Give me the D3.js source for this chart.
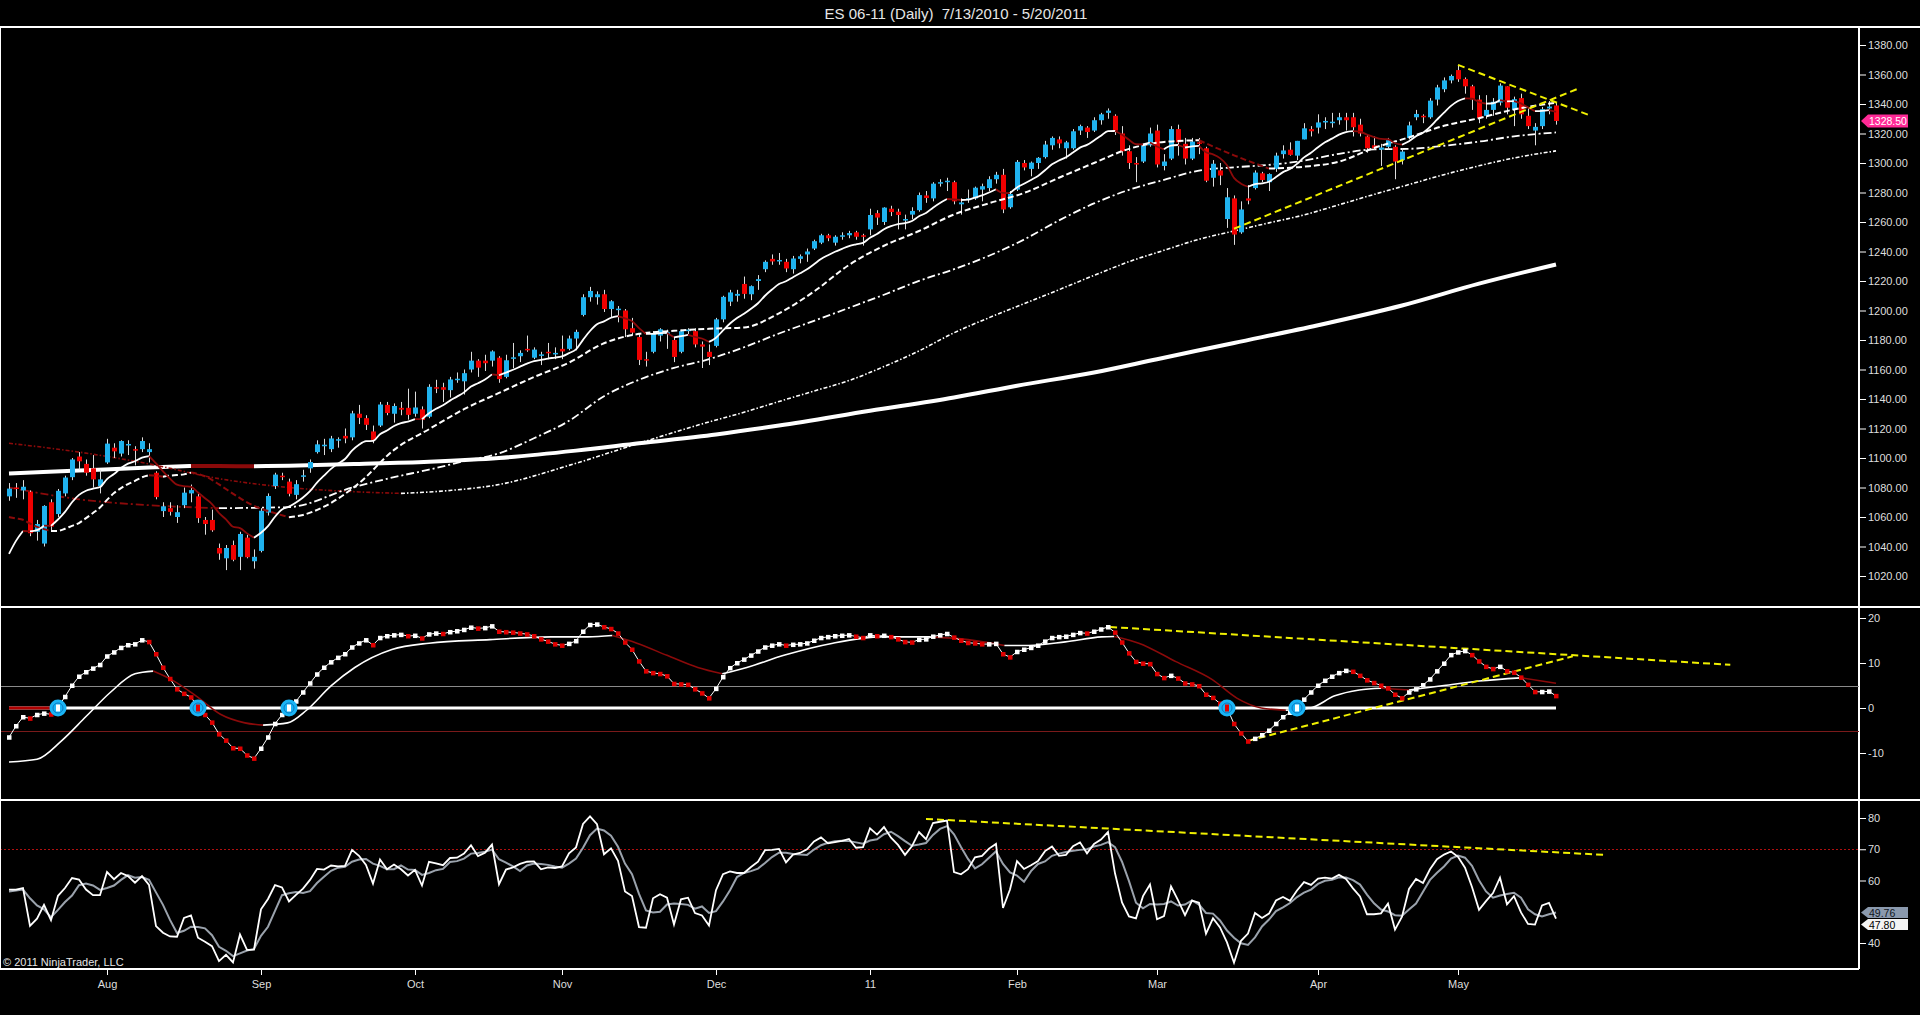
<!DOCTYPE html>
<html><head><meta charset="utf-8">
<script src="https://cdn.jsdelivr.net/npm/d3@7"></script>
<style>html,body{margin:0;padding:0;background:#000;overflow:hidden}svg{display:block}</style>
</head><body><svg id="c" width="1920" height="1015"></svg>
<script>
const chartTitle = "ES 06-11 (Daily)  7/13/2010 - 5/20/2011";
const copyright = "© 2011 NinjaTrader, LLC";
const monthLabels = ["Aug","Sep","Oct","Nov","Dec","11","Feb","Mar","Apr","May"];
const monthStartBars = [14,36,58,79,101,123,144,164,187,207];
const priceTicks = [1020,1040,1060,1080,1100,1120,1140,1160,1180,1200,1220,1240,1260,1280,1300,1320,1340,1360,1380];
const macdTicks = [-10,0,10,20];
const rsiTicks = [40,60,70,80];
const lastPrice = 1328.50;
const rsiAvgLast = 49.76;
const rsiLastLabel = "47.80";

const opens = [1074,1080,1078,1077,1050,1042,1070,1062,1076,1087,
1101,1096,1093,1081,1097,1107,1103,1109,1106,1106,
1104,1090,1064,1066,1060,1068,1076,1074,1058,1058,
1039,1032,1041,1033,1046,1030,1037,1063,1081,1088,
1084,1075,1088,1093,1104,1108,1106,1112,1115,1114,
1130,1127,1118,1122,1136,1130,1134,1134,1130,1133,
1128,1148,1148,1146,1153,1152,1160,1166,1166,1166,
1168,1155,1168,1169,1174,1168,1170,1172,1171,1174,
1174,1181,1197,1209,1209,1211,1201,1201,1200,1188,
1182,1167,1172,1183,1184,1180,1172,1186,1186,1177,
1172,1176,1194,1206,1210,1218,1211,1220,1228,1235,
1234,1233,1228,1235,1238,1242,1246,1251,1246,1251,
1251,1253,1251,1255,1266,1260,1269,1267,1262,1265,
1268,1278,1276,1286,1287,1287,1272,1276,1276,1282,
1283,1289,1292,1270,1282,1300,1296,1300,1304,1312,
1316,1310,1310,1322,1324,1322,1329,1334,1332,1320,
1308,1300,1301,1312,1322,1298,1303,1323,1313,1303,
1314,1310,1290,1295,1262,1276,1253,1276,1283,1293,
1287,1296,1306,1309,1305,1316,1323,1324,1328,1328,
1329,1331,1331,1326,1318,1312,1309,1311,1311,1302,
1317,1331,1332,1331,1343,1350,1356,1363,1357,1352,
1343,1332,1336,1341,1352,1336,1344,1332,1322,1325,
1337,1339];
const highs = [1083,1083,1085,1078,1058,1068,1072,1079,1088,1100,
1104,1099,1102,1092,1113,1110,1112,1112,1108,1114,
1110,1091,1070,1070,1068,1080,1082,1076,1060,1065,
1042,1041,1044,1050,1048,1038,1066,1076,1090,1090,
1086,1085,1092,1099,1112,1113,1115,1114,1120,1132,
1136,1129,1122,1138,1138,1137,1138,1147,1145,1135,
1150,1153,1151,1155,1158,1160,1172,1167,1170,1173,
1169,1170,1178,1173,1183,1175,1172,1178,1175,1183,
1183,1187,1211,1216,1213,1214,1207,1203,1201,1195,
1184,1172,1186,1188,1187,1182,1187,1188,1188,1179,
1177,1195,1210,1214,1214,1223,1217,1224,1234,1238,
1239,1235,1237,1238,1242,1248,1252,1252,1251,1253,
1254,1254,1252,1269,1268,1270,1271,1269,1265,1270,
1280,1281,1287,1289,1290,1288,1276,1282,1284,1286,
1291,1294,1296,1281,1302,1302,1301,1304,1315,1318,
1318,1315,1323,1326,1325,1331,1334,1337,1333,1325,
1312,1304,1313,1324,1326,1306,1325,1326,1317,1317,
1317,1311,1302,1300,1283,1278,1274,1285,1295,1294,
1293,1307,1312,1314,1315,1327,1325,1333,1331,1334,
1334,1334,1334,1330,1319,1318,1313,1317,1312,1310,
1328,1336,1333,1344,1353,1358,1360,1366,1358,1353,
1346,1346,1344,1354,1352,1345,1347,1338,1327,1338,
1342,1341];
const lows = [1071,1073,1072,1047,1044,1040,1050,1060,1074,1085,
1092,1088,1080,1076,1096,1100,1101,1102,1095,1104,
1097,1072,1060,1061,1056,1066,1070,1056,1048,1050,
1031,1024,1030,1024,1032,1025,1036,1061,1079,1085,
1074,1072,1084,1090,1103,1102,1104,1107,1110,1112,
1123,1119,1110,1121,1129,1124,1129,1126,1128,1120,
1127,1144,1138,1141,1151,1143,1158,1155,1159,1162,
1151,1154,1161,1165,1172,1167,1163,1167,1167,1167,
1173,1173,1196,1206,1204,1199,1195,1192,1182,1183,
1163,1162,1171,1179,1174,1165,1171,1184,1175,1161,
1163,1175,1192,1203,1206,1208,1207,1214,1226,1231,
1231,1226,1225,1232,1233,1241,1245,1247,1244,1248,
1249,1248,1244,1251,1258,1258,1264,1255,1255,1262,
1267,1273,1274,1284,1281,1272,1265,1273,1275,1274,
1281,1286,1266,1269,1281,1295,1291,1296,1303,1309,
1310,1303,1309,1319,1317,1321,1326,1330,1319,1305,
1296,1287,1300,1311,1297,1295,1302,1305,1299,1302,
1306,1287,1284,1285,1256,1244.5,1252,1272,1282,1287,
1281,1294,1303,1305,1302,1316,1318,1320,1323,1324,
1326,1322,1318,1318,1307,1309,1298,1309,1289,1299,
1316,1329,1327,1330,1339,1348,1354,1355,1347,1336,
1327,1330,1332,1339,1333,1325,1330,1323,1312,1323,
1333,1326];
const closes = [1079.25,1079.25,1080.5,1049,1055.25,1067.5,1053.5,1077.75,1086.75,1099,
1097.75,1090,1085.5,1085.5,1109.75,1104.5,1111.5,1109.5,1105.25,1111.5,
1106,1073.5,1067.25,1063.5,1063.25,1076.5,1078.25,1059.25,1055.25,1051,
1035.25,1039,1031,1048.5,1032.75,1033,1064.25,1074.25,1088.75,1087,
1075.75,1082.25,1088.25,1097.25,1109.25,1109,1113.25,1112.75,1113.25,1130.25,
1127.25,1122.5,1112.25,1136.25,1130.5,1135.25,1132.75,1129.25,1134.25,1125.75,
1148.25,1147.25,1146.25,1153.25,1153.75,1157.5,1166,1161.25,1164.25,1172.25,
1153.5,1166.25,1168.25,1171.25,1173.25,1173.5,1170.25,1171.5,1171.25,1172.25,
1181,1185.5,1209,1213.25,1211,1201,1206.25,1201.25,1187.25,1185,
1166.5,1166.25,1184.25,1187.25,1185.25,1168.5,1186,1187,1177,1175.5,
1168.5,1194,1209.25,1212.25,1211.25,1211.25,1216.5,1221.25,1233,1233.25,
1234.25,1228.5,1235.25,1236.75,1240,1247,1251,1249,1250,1251,
1252.5,1250,1250.5,1264.75,1263,1269.75,1266.75,1264.75,1262,1267.5,
1278.25,1276.25,1286,1287,1288,1274,1273.25,1276,1283.25,1284.25,
1289,1292,1268.5,1279,1300.75,1297,1300.25,1303.5,1312.5,1317,
1313.25,1314,1321.5,1325,1321,1329,1333,1335.5,1322,1308,
1300,1299,1312,1320,1299,1301,1323,1314,1303,1314.5,
1313,1288,1299.5,1291.5,1276.75,1251.5,1268.5,1274.5,1293.5,1288.5,
1292.5,1305,1308.5,1305.5,1315,1323.5,1321.5,1327.5,1328.5,1328,
1331,1329,1324.25,1320,1310,1310,1310.5,1315.5,1301,1307.75,
1325.5,1333.25,1331.25,1342.25,1351.25,1356,1359,1356.75,1352,1343,
1330.5,1336,1341.5,1352.5,1337.5,1343.25,1333,1325,1324.5,1336.5,
1338.25,1328.5];

const ema10 = [1035,1043.8,1050.5,1050.2,1051.1,1054.1,1054,1058.3,1063.5,1070,
1075,1077.8,1079.2,1080.3,1085.7,1089.1,1093.2,1096.2,1097.8,1100.3,
1101.3,1096.3,1091,1086,1081.9,1080.9,1080.4,1076.6,1072.7,1068.8,
1062.7,1058.4,1053.4,1052.5,1048.9,1046,1049.3,1053.8,1060.2,1065.1,
1067,1069.8,1073.2,1077.5,1083.3,1088,1092.6,1096.2,1099.3,1105,
1109,1111.4,1111.6,1116.1,1118.7,1121.7,1123.7,1124.7,1126.4,1126.3,
1130.3,1133.4,1135.7,1138.9,1141.6,1144.5,1148.4,1150.7,1153.2,1156.7,
1156.1,1157.9,1159.8,1161.9,1164,1165.7,1166.5,1167.4,1168.1,1168.9,
1171.1,1173.7,1180.1,1186.1,1190.7,1192.6,1195.1,1196.2,1194.6,1192.8,
1188,1184.1,1184.1,1184.7,1184.8,1181.8,1182.6,1183.4,1182.2,1181,
1178.7,1181.5,1186.5,1191.2,1194.9,1197.8,1201.2,1204.9,1210,1214.2,
1217.9,1219.8,1222.6,1225.2,1227.9,1231.4,1234.9,1237.5,1239.8,1241.8,
1243.7,1244.9,1245.9,1249.3,1251.8,1255.1,1257.2,1258.6,1259.2,1260.7,
1263.9,1266.1,1269.7,1272.9,1275.6,1275.3,1274.9,1275.1,1276.6,1278,
1280,1282.2,1279.7,1279.6,1283.4,1285.9,1288.5,1291.2,1295.1,1299.1,
1301.7,1303.9,1307.1,1310.4,1312.3,1315.3,1318.5,1321.6,1321.7,1319.2,
1315.7,1312.7,1312.6,1313.9,1311.2,1309.3,1311.8,1312.2,1310.5,1311.2,
1311.6,1307.3,1305.9,1303.3,1298.5,1289.9,1286,1283.9,1285.7,1286.2,
1287.3,1290.5,1293.8,1295.9,1299.4,1303.8,1307,1310.7,1314,1316.5,
1319.2,1321,1321.6,1321.3,1319.2,1317.6,1316.3,1316.1,1313.4,1312.4,
1314.8,1318.2,1320.5,1324.5,1329.4,1334.2,1338.7,1342,1343.8,1343.7,
1341.3,1340.3,1340.5,1342.7,1341.8,1342,1340.4,1337.6,1335.2,1335.4,
1335.9,1334.6];

const sma20Pts = [[0,1060],[1,1059],[2,1058.1],[3,1055.6],[4,1053.3],[5,1051.8],[6,1050.5],[7,1050.6],[8,1052],[9,1054],[10,1055.9],[11,1059.2],[12,1062.7],[13,1066.4],[14,1071.6],[15,1076.2],[16,1079.6],[17,1082.3],[18,1084.5],[19,1086.9],[20,1088.3],[21,1088],[22,1087.3],[23,1088],[24,1088.4],[25,1088.9],[26,1090.1],[27,1089.2],[28,1087.6],[29,1085.2],[30,1082.1],[35,1067.6],[38,1062.6],[40,1059.9],[42,1061.4],[45,1067],[50,1082.9],[55,1105.5],[60,1119.5],[65,1133.1],[70,1144.1],[75,1154.9],[80,1164.7],[85,1177.8],[90,1184.2],[95,1186.2],[100,1187.6],[105,1188.5],[110,1198.1],[115,1212.9],[120,1230.9],[125,1243.9],[130,1253.9],[135,1265.1],[140,1272.7],[145,1279.7],[150,1290],[155,1300],[160,1309.6],[165,1314.3],[170,1315.4],[175,1305.2],[180,1296.2],[185,1297.5],[190,1300.9],[195,1310.2],[200,1317.4],[205,1325.2],[210,1330.4],[215,1336.3],[221,1340.9]];
const sma50Pts = [[0,1080],[10,1072],[20,1068],[30,1066],[40,1066.7],[49,1079.9],[55,1087],[60,1092.1],[65,1097.8],[70,1103.2],[75,1113.4],[80,1125.2],[85,1141.9],[90,1153],[95,1161.1],[100,1167],[105,1175.1],[110,1184.4],[115,1193],[120,1201.8],[125,1210.7],[130,1220.1],[135,1228],[140,1237.1],[145,1248.1],[150,1261.1],[155,1272.6],[160,1281.8],[165,1288.6],[170,1294.9],[175,1297.1],[180,1298.7],[185,1301.6],[190,1306.2],[195,1309.3],[200,1309.6],[205,1311.7],[210,1314.5],[215,1318.1],[221,1320.7]];
const sma100Pts = [[0,1110],[10,1104],[20,1096],[30,1086],[40,1080],[50,1077],[56,1076],[63,1078],[70,1082],[80,1095],[90,1110],[99,1123.1],[105,1131],[110,1138.3],[115,1145.4],[120,1152.5],[125,1162],[130,1172.6],[135,1184.9],[140,1195.1],[145,1204.6],[150,1214.1],[155,1223.8],[160,1233.1],[165,1240.8],[170,1248.3],[175,1253.9],[180,1259.4],[185,1264.8],[190,1271.7],[195,1278.7],[200,1285.4],[205,1292.1],[210,1298.1],[215,1303.4],[221,1308.2]];
const sma200Pts = [[0,1089.5],[10,1091.5],[20,1093.5],[26,1094.6],[30,1094.5],[35,1094.4],[40,1094.8],[50,1096],[60,1097.5],[70,1100],[81,1105],[90,1110],[101,1116],[110,1122],[123,1132],[135,1141],[144,1149],[155,1158],[164,1167],[175,1178],[187,1190],[199,1203.4],[210,1218.2],[221,1231.2]];

const macd = [-6.5,-4.0,-2.0,-2.3,-1.5,-1.2,-1.4,0.2,2.5,5.0,
7.0,8.0,8.8,9.6,11.5,12.4,13.4,14.0,14.2,15.1,
14.7,12.0,9.0,6.5,4.2,3.2,2.4,0.2,-1.5,-3.2,
-5.8,-7.2,-8.9,-9.0,-10.5,-11.2,-9.0,-6.5,-3.5,-1.5,
0.1,1.5,3.5,5.5,7.5,9.0,10.2,11.2,12.0,13.5,
14.4,15.1,14.0,15.6,16.0,16.2,16.3,16.0,16.1,15.5,
16.4,16.6,16.5,16.9,17.1,17.4,17.9,17.7,17.8,18.2,
17.0,16.9,16.8,16.6,16.4,16.0,15.3,14.8,14.2,13.9,
14.3,14.9,17.0,18.5,18.6,18.0,17.6,16.6,14.6,13.0,
10.4,8.2,7.8,7.6,7.1,5.4,5.3,5.2,4.2,3.3,
2.2,4.3,6.9,8.9,10.0,10.8,11.7,12.6,13.5,13.9,
14.2,13.9,14.1,14.2,14.4,15.0,15.6,15.8,16.0,16.1,
16.2,15.9,15.6,16.2,16.0,16.1,15.8,15.3,14.7,14.6,
15.2,15.3,15.9,16.2,16.5,15.7,15.0,14.5,14.4,14.2,
14.2,14.3,12.0,11.3,12.5,13.0,13.4,13.9,14.8,15.6,
15.8,15.9,16.3,16.7,16.6,17.0,17.5,18.0,16.8,14.6,
12.2,10.3,9.9,9.8,7.6,6.7,7.2,6.6,5.5,5.3,
4.9,3.0,2.3,1.0,0.0,-3.5,-5.6,-7.4,-6.8,-6.0,
-5.0,-3.5,-2.0,-1.0,0.2,1.9,3.5,5.0,6.1,7.0,
7.8,8.3,8.1,7.2,6.2,5.6,5.0,4.4,3.0,2.2,
3.5,4.2,5.1,6.4,8.2,9.9,11.8,12.4,12.7,11.8,
10.4,9.2,8.7,9.2,8.2,7.9,6.8,5.2,3.6,3.6,
3.7,2.7];
const signalPts = [[0,-12],[4,-11.4],[7.5,-7.3],[11,-1.9],[14.5,3.5],[18,7.6],[20.6,8.2],[23.2,6.3],[26.7,2.7],[30.2,-1.4],[33.7,-3.3],[36.3,-3.8],[39.8,-3.3],[42.5,-0.5],[46,4.9],[49.4,9],[54.7,13],[60,14.4],[68.7,15.2],[77.4,15.8],[82.7,15.8],[86.2,16.1],[89.7,14.4],[94,11.7],[98.4,9],[101.9,7.6],[105.4,9],[110.7,11.7],[117.7,14.4],[124.7,15.8],[131.7,15.8],[137,15.2],[142.2,13.9],[145.7,13.9],[150.9,14.7],[156.1,15.8],[157.9,15.9],[161.4,14.4],[166.7,10.3],[171.9,6.3],[175.4,2.2],[178.9,0],[182.4,-0.5],[185.9,0],[189.4,2.7],[192.9,4.0],[196,4.4],[200,4.0],[205,5.0],[210,6.0],[216,6.7],[221,5.5]];
const crossBars = [7,27,40,174,184];
const crossUp = [true,false,true,false,true];
const zeroRedRanges = [[0,6]];

const rsi = [57.1,57.1,57.6,45.5,47.8,52.2,47.3,55.1,57.6,60.8,
60.3,57.1,55.3,55.3,62.7,60.4,62.4,61.4,59.3,61.4,
58.6,45.4,43.3,42.1,42.0,48.0,48.8,41.7,40.4,39.0,
34.2,36.2,33.8,42.7,37.8,37.9,50.8,54.1,58.5,57.8,
53.3,55.4,57.4,60.2,63.7,63.5,64.8,64.5,64.7,69.8,
67.9,65.0,59.0,66.7,63.6,65.1,63.6,61.6,63.4,58.4,
66.0,65.5,64.9,67.2,67.3,68.6,71.3,67.8,68.9,71.5,
58.8,63.5,64.2,65.3,66.0,66.1,63.6,64.2,64.0,64.5,
68.7,70.6,78.1,80.5,78.0,68.4,70.3,66.3,56.5,55.0,
45.1,44.9,54.3,55.6,54.5,45.9,54.0,54.5,49.6,48.8,
45.6,56.9,62.0,62.9,62.4,62.4,64.3,66.0,69.7,69.8,
70.1,65.8,68.3,68.8,70.0,72.5,73.8,71.9,72.3,72.7,
73.3,70.5,70.7,76.7,74.7,77.1,73.7,71.4,68.2,71.0,
75.5,73.2,78.4,78.8,79.2,62.7,62.0,63.6,67.4,67.9,
70.2,71.7,51.2,57.1,66.2,63.7,64.9,66.2,69.4,70.9,
67.9,68.2,71.0,72.2,68.7,71.7,73.1,75.5,62.3,53.0,
48.5,47.9,55.0,58.7,47.6,48.6,58.1,53.7,48.9,53.6,
52.9,43.0,47.9,45.0,40.2,33.7,40.7,43.0,49.6,48.0,
49.4,53.6,54.7,53.5,56.8,59.5,58.6,60.6,60.9,60.6,
61.8,60.5,57.5,54.9,49.2,49.2,49.5,52.6,44.3,48.4,
57.3,60.5,59.2,63.6,66.8,68.3,69.3,67.6,64.1,57.9,
50.6,53.4,56.0,60.9,52.4,55.0,49.8,46.1,45.9,52.0,
52.8,47.8];
const rsiAvg = [56.5,56.8,57.1,54.3,52.0,50.8,48.2,50.6,53.1,55.2,
58.5,59.0,58.4,57.0,57.6,58.4,60.2,61.7,60.9,61.1,
60.2,56.2,52.2,47.4,43.2,43.9,45.2,45.1,44.7,42.5,
38.8,37.5,35.8,36.7,37.6,38.1,42.3,45.2,50.3,55.3,
55.9,56.3,56.0,56.6,59.2,61.2,63.1,64.1,64.4,66.0,
66.7,66.9,65.4,64.7,63.6,63.6,64.8,63.5,63.4,61.8,
62.4,63.3,63.7,65.9,66.2,67.0,68.6,68.8,69.2,69.9,
66.8,65.7,64.5,63.0,64.8,65.4,65.3,65.0,64.5,64.1,
65.4,67.0,70.5,74.5,76.6,76.0,74.3,70.8,65.4,62.0,
55.7,50.4,49.8,50.0,52.3,52.6,52.5,52.2,51.0,51.7,
49.6,50.2,53.3,56.9,61.1,62.4,63.0,63.8,65.6,67.5,
68.9,68.9,68.5,68.3,68.2,69.9,71.3,72.1,72.6,72.7,
72.6,72.2,71.8,72.8,73.2,74.8,75.6,74.2,72.6,71.1,
71.5,72.0,74.6,76.5,77.4,74.8,70.7,66.9,63.9,65.2,
67.3,69.3,65.3,62.6,61.6,59.6,63.0,65.3,66.1,67.9,
68.6,69.1,69.5,69.8,70.0,70.9,71.4,72.3,70.7,66.0,
59.8,52.9,51.1,52.5,52.3,52.5,53.3,52.0,52.3,53.6,
52.3,49.6,49.4,47.2,44.0,41.7,39.9,39.4,41.8,45.3,
47.5,50.2,51.4,52.8,54.7,56.1,57.1,58.9,59.9,60.2,
61.0,61.0,60.1,58.7,55.5,52.7,50.7,50.1,48.9,48.7,
50.7,52.6,56.4,60.2,62.5,64.5,67.0,68.0,67.3,64.7,
60.1,56.5,54.5,55.2,55.7,56.1,54.5,50.8,49.2,48.5,
49.2,49.76];

const trendPrice = [[[175,1255.4],[224.4,1350.9]],[[207,1366.5],[226,1332]]];
const trendMacd = [[[157.3,18],[245.9,9.6]],[[177,-7.3],[223.4,11.5]]];
const trendRsi = [[[131,79.7],[227.9,68.2]]];

// ---------- drawing ----------
const FONT = "'Liberation Sans', Arial, Helvetica, sans-serif";
const WHITE = "#ffffff", DRED = "#8b0a0a", CYAN = "#1fb2ee", RED = "#f00000", YEL = "#f0f000";
const svg = d3.select("#c");
svg.append("rect").attr("width",1920).attr("height",1015).attr("fill","#000");

const AX = 1859;
const x = d3.scaleLinear().domain([0, 221]).range([9, 1556]);
const yP = d3.scaleLinear().domain([1020, 1380]).range([576, 45]);
const yM = d3.scaleLinear().domain([-10, 20]).range([753, 618]);
const yR = d3.scaleLinear().domain([40, 80]).range([943, 818]);
const xc = i => Math.round(x(i)) + 0.5;

const defs = svg.append("defs");
[["cp",27,607],["cm",607,800],["cr",800,969]].forEach(([id,y0,y1])=>{
  defs.append("clipPath").attr("id",id).append("rect").attr("x",1).attr("y",y0+1).attr("width",AX-1).attr("height",y1-y0-1);
});

// title
svg.append("text").attr("x",956).attr("y",19).attr("text-anchor","middle")
  .attr("fill","#e6e6e6").style("font",`15px ${FONT}`).style("white-space","pre").text(chartTitle);

// frame lines
const frame = svg.append("g").attr("stroke","#fff").attr("stroke-width",1.5).attr("shape-rendering","crispEdges");
frame.append("line").attr("x1",0).attr("x2",1920).attr("y1",27).attr("y2",27);
frame.append("line").attr("x1",0).attr("x2",1920).attr("y1",607).attr("y2",607);
frame.append("line").attr("x1",0).attr("x2",1920).attr("y1",800).attr("y2",800);
frame.append("line").attr("x1",0).attr("x2",AX).attr("y1",969).attr("y2",969);
frame.append("line").attr("x1",AX).attr("x2",AX).attr("y1",27).attr("y2",969);
frame.append("line").attr("x1",0.5).attr("x2",0.5).attr("y1",27).attr("y2",969);

function colorRuns(pts){
  const runs=[]; let cur=null;
  for(let k=1;k<pts.length;k++){
    const col = pts[k][1] >= pts[k-1][1] ? "w" : "r";
    if(!cur || cur.col!==col){ cur={col, pts:[pts[k-1]]}; runs.push(cur); }
    cur.pts.push(pts[k]);
  }
  return runs;
}
function drawMA(g, pts, yS, width, dash){
  const line = d3.line().x(d=>x(d[0])).y(d=>yS(d[1])).curve(d3.curveMonotoneX);
  colorRuns(pts).forEach(r=>{
    g.append("path").attr("d", line(r.pts)).attr("fill","none")
      .attr("stroke", r.col==="w" ? WHITE : DRED).attr("stroke-width", width)
      .attr("stroke-dasharray", dash || null).attr("stroke-linecap","butt");
  });
}
function drawTrend(g, segs, yS){
  segs.forEach(s=>{
    g.append("line").attr("x1",x(s[0][0])).attr("y1",yS(s[0][1]))
      .attr("x2",x(s[1][0])).attr("y2",yS(s[1][1]))
      .attr("stroke",YEL).attr("stroke-width",2).attr("stroke-dasharray","7,4");
  });
}

// ---------- price panel ----------
const gp = svg.append("g").attr("clip-path","url(#cp)");
drawMA(gp, sma200Pts, yP, 4);
drawMA(gp, sma100Pts, yP, 1.6, "4,2,1.5,2");
drawMA(gp, sma50Pts, yP, 1.8, "8,3,2,3");

const bars = closes.map((c,i)=>({i, o:opens[i], h:highs[i], l:lows[i], c}));
gp.append("g").selectAll("line").data(bars).join("line")
  .attr("x1",d=>xc(d.i)).attr("x2",d=>xc(d.i))
  .attr("y1",d=>yP(d.h)).attr("y2",d=>yP(d.l))
  .attr("stroke","#dcdcdc").attr("stroke-width",1);
gp.append("g").selectAll("rect").data(bars).join("rect")
  .attr("x",d=>Math.round(x(d.i))-2).attr("width",5)
  .attr("y",d=>yP(Math.max(d.o,d.c)))
  .attr("height",d=>Math.max(1.5, Math.abs(yP(d.o)-yP(d.c))))
  .attr("fill",d=>d.c>=d.o ? CYAN : RED);

drawMA(gp, sma20Pts, yP, 2, "6,3");
drawMA(gp, ema10.map((v,i)=>[i,v]), yP, 1.8);
drawTrend(gp, trendPrice, yP);

// ---------- MACD panel ----------
const gm = svg.append("g").attr("clip-path","url(#cm)");
gm.append("line").attr("x1",0).attr("x2",AX).attr("y1",Math.round(yM(5))+0.5).attr("y2",Math.round(yM(5))+0.5)
  .attr("stroke","#8a8a8a").attr("stroke-width",1);
gm.append("line").attr("x1",0).attr("x2",AX).attr("y1",Math.round(yM(-5))+0.5).attr("y2",Math.round(yM(-5))+0.5)
  .attr("stroke","#7a1a1a").attr("stroke-width",1);
gm.append("line").attr("x1",x(0)).attr("x2",x(221)).attr("y1",yM(0)).attr("y2",yM(0))
  .attr("stroke","#fff").attr("stroke-width",3);
zeroRedRanges.forEach(r=>{
  gm.append("line").attr("x1",x(r[0])).attr("x2",x(r[1])).attr("y1",yM(0)).attr("y2",yM(0))
    .attr("stroke","#b00000").attr("stroke-width",3);
});
drawMA(gm, signalPts, yM, 1.6);
drawTrend(gm, trendMacd, yM);
gm.append("path").attr("d", d3.line().x((d,i)=>x(i)).y(d=>yM(d))(macd))
  .attr("fill","none").attr("stroke","#fff").attr("stroke-width",1);
gm.append("g").selectAll("rect").data(macd).join("rect")
  .attr("x",(d,i)=>x(i)-2).attr("y",d=>yM(d)-2).attr("width",4.5).attr("height",4.5)
  .attr("fill",(d,i)=> (i===0 || d>=macd[i-1]) ? "#fff" : "#e00000");
const cg = gm.append("g");
crossBars.forEach((b,k)=>{
  cg.append("circle").attr("cx",x(b)).attr("cy",yM(0)).attr("r",8.5).attr("fill","#1ab4f5");
  cg.append("circle").attr("cx",x(b)).attr("cy",yM(0)).attr("r",5).attr("fill","none").attr("stroke","#0b78c0").attr("stroke-width",1);
  cg.append("rect").attr("x",x(b)-2).attr("y",yM(0)-3.5).attr("width",4).attr("height",7)
    .attr("fill", crossUp[k] ? "#fff" : "#e00000");
});

// ---------- RSI panel ----------
const gr = svg.append("g").attr("clip-path","url(#cr)");
gr.append("line").attr("x1",0).attr("x2",AX).attr("y1",Math.round(yR(70))+0.5).attr("y2",Math.round(yR(70))+0.5)
  .attr("stroke","#b01010").attr("stroke-width",1).attr("stroke-dasharray","2,2");
drawTrend(gr, trendRsi, yR);
gr.append("path").attr("d", d3.line().x((d,i)=>x(i)).y(d=>yR(d))(rsiAvg))
  .attr("fill","none").attr("stroke","#9aa2ac").attr("stroke-width",2);
gr.append("path").attr("d", d3.line().x((d,i)=>x(i)).y(d=>yR(d))(rsi))
  .attr("fill","none").attr("stroke","#fff").attr("stroke-width",1.8);

svg.append("text").attr("x",3).attr("y",966).attr("fill","#e6e6e6")
  .style("font",`11px ${FONT}`).text(copyright);

// ---------- axes ----------
function styleAxis(g){
  g.select(".domain").remove();
  g.selectAll(".tick line").attr("stroke","#fff").attr("stroke-width",1);
  g.selectAll(".tick text").attr("fill","#dedede").style("font",`11px ${FONT}`);
}
svg.append("g").attr("transform",`translate(${AX},0)`)
  .call(d3.axisRight(yP).tickValues(priceTicks).tickSize(7).tickPadding(2).tickFormat(d=>d.toFixed(2))).call(styleAxis);
svg.append("g").attr("transform",`translate(${AX},0)`)
  .call(d3.axisRight(yM).tickValues(macdTicks).tickSize(7).tickPadding(2).tickFormat(d=>String(d))).call(styleAxis);
svg.append("g").attr("transform",`translate(${AX},0)`)
  .call(d3.axisRight(yR).tickValues(rsiTicks).tickSize(7).tickPadding(2).tickFormat(d=>String(d))).call(styleAxis);
svg.append("g").attr("transform","translate(0,969)")
  .call(d3.axisBottom(x).tickValues(monthStartBars).tickSize(6).tickPadding(5).tickFormat((d,i)=>monthLabels[i])).call(styleAxis);

// ---------- value labels ----------
function valueBox(yv, text, fill, color, h){
  const x0=AX+2, x1=AX+9, x2=AX+49;
  svg.append("path").attr("d",`M${x0},${yv} L${x1},${yv-h/2} L${x2},${yv-h/2} L${x2},${yv+h/2} L${x1},${yv+h/2} Z`).attr("fill",fill);
  svg.append("text").attr("x",x1+1).attr("y",yv+4).attr("fill",color).style("font",`10.5px ${FONT}`).text(text);
}
valueBox(yP(lastPrice), lastPrice.toFixed(2), "#ff2a96", "#fff", 13);
const yAvg = yR(rsiAvgLast);
const yLast = Math.max(yR(rsi[rsi.length-1]), yAvg + 12);
valueBox(yLast, rsiLastLabel, "#f4f4f4", "#000", 11);
valueBox(yAvg, rsiAvgLast.toFixed(2), "#8a99ad", "#10161e", 11);
</script></body></html>
